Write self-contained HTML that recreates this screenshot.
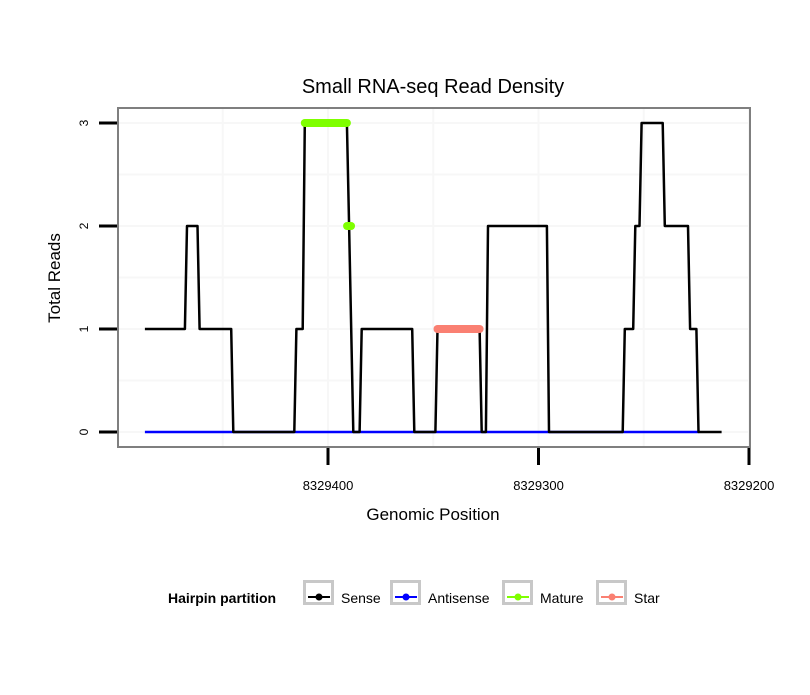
<!DOCTYPE html>
<html><head><meta charset="utf-8"><style>
body{margin:0;background:#fff;}
svg text{font-family:"Liberation Sans",sans-serif;}
</style></head><body>
<svg width="810" height="690" viewBox="0 0 810 690" xmlns="http://www.w3.org/2000/svg">
<rect width="810" height="690" fill="#fff"/>
<text x="433" y="93" font-size="20" text-anchor="middle">Small RNA-seq Read Density</text>
<g id="grid"></g>
<g id="plot"></g>
<rect x="118" y="108" width="632" height="339" fill="none" stroke="#7f7f7f" stroke-width="2"/>
<g id="axes"></g>
<text x="433" y="520" font-size="17" text-anchor="middle">Genomic Position</text>
<text x="0" y="0" font-size="17" text-anchor="middle" transform="translate(60,278) rotate(-90)">Total Reads</text>
<g>
<text x="168" y="603" font-size="14" font-weight="bold">Hairpin partition</text>
<g id="legend"></g>
</g>
</svg>
<script>
const base = 8329400;
const senseX = [87,68,67,62,61,46,45,16,15,12,11,-9,-10,-12,-15,-16,-40,-41,-51,-52,-72,-73,-75,-76,-104,-105,-140,-141,-145,-146,-148,-149,-159,-160,-171,-172,-175,-176,-187];
const senseY = [1,1,2,2,1,1,0,0,1,1,3,3,2,0,0,1,1,0,0,1,1,0,0,2,2,0,0,1,1,2,2,3,3,2,2,1,1,0,0];
const antisenseX = [87,-176];
const antisenseY = [0,0];
const matureX = [11,-9];
const matureY = [3,3];
const maturePointX = [-10];
const maturePointY = [2];
const starX = [-52,-72];
const starY = [1,1];
const xTicks = [8329400,8329300,8329200];
const xTickLabels = ["8329400","8329300","8329200"];
const yTicks = [0,1,2,3];
const yTickLabels = ["0","1","2","3"];

const NS="http://www.w3.org/2000/svg";
function X(d){return 328 - d*2.105;}
function XP(p){return X(p-base);}
function Y(v){return 432 - v*103;}
function mk(tag,attrs,parent){const e=document.createElementNS(NS,tag);for(const k in attrs)e.setAttribute(k,attrs[k]);parent.appendChild(e);return e;}
const grid=document.getElementById('grid'),plot=document.getElementById('plot'),axes=document.getElementById('axes'),legend=document.getElementById('legend');

for(let v=0;v<=3;v+=0.5){
  const y=Y(v); if(y<109||y>446) continue;
  const g=mk('line',{x1:119,x2:749,y1:y,y2:y,stroke:'#f7f7f7','stroke-width':2},grid);
  
  
}
for(let p=8329500;p>=8329150;p-=50){
  const x=XP(p); if(x<119||x>749) continue;
  const g=mk('line',{x1:x,x2:x,y1:109,y2:446,stroke:'#f7f7f7','stroke-width':2},grid);
  
  
}
function path(xs,ys){return xs.map((d,i)=>(i?'L':'M')+X(d).toFixed(1)+','+Y(ys[i]).toFixed(1)).join(' ');}
let e;
e=mk('path',{d:path(antisenseX,antisenseY),fill:'none',stroke:'#0000ff','stroke-width':2.5},plot);


e=mk('path',{d:path(senseX,senseY),fill:'none',stroke:'#000','stroke-width':2.5,'stroke-linejoin':'round'},plot);


e=mk('path',{d:path(matureX,matureY),fill:'none',stroke:'#7fff00','stroke-width':8,'stroke-linecap':'round'},plot);


maturePointX.forEach((d,i)=>{
  const p=mk('line',{x1:X(d)-2,x2:X(d)+2,y1:Y(maturePointY[i]),y2:Y(maturePointY[i]),stroke:'#7fff00','stroke-width':8,'stroke-linecap':'round'},plot);
  
  
});
e=mk('path',{d:path(starX,starY),fill:'none',stroke:'#fa8072','stroke-width':8,'stroke-linecap':'round'},plot);



yTicks.forEach((v,i)=>{
  const t=mk('line',{x1:99,x2:117,y1:Y(v),y2:Y(v),stroke:'#000','stroke-width':3},axes);
  
  
  const l=mk('text',{x:0,y:0,'font-size':12,'text-anchor':'middle',transform:`translate(88,${Y(v)}) rotate(-90)`},axes);
  l.textContent=yTickLabels[i];
  
  
});
xTicks.forEach((p,i)=>{
  const x=XP(p);
  const t=mk('line',{x1:x,x2:x,y1:448,y2:465,stroke:'#000','stroke-width':3},axes);
  
  
  const l=mk('text',{x:x,y:490,'font-size':13,'text-anchor':'middle'},axes);
  l.textContent=xTickLabels[i];
  
  
});

const legNames=["Sense","Antisense","Mature","Star"];
const legColors=["#000","#0000ff","#7fff00","#fa8072"];
const legX=[303,390,502,596];
legNames.forEach((n,i)=>{
  const g=mk('g',{},legend);
  
  
  mk('rect',{x:legX[i]+1.5,y:581.5,width:28,height:22,fill:'#fff',stroke:'#c8c8c8','stroke-width':3},g);
  mk('line',{x1:legX[i]+5,x2:legX[i]+27,y1:597,y2:597,stroke:legColors[i],'stroke-width':2},g);
  mk('circle',{cx:legX[i]+16,cy:597,r:3.5,fill:legColors[i]},g);
  const t=mk('text',{x:legX[i]+38,y:603,'font-size':14},g);
  t.textContent=n;
});
</script>
</body></html>
